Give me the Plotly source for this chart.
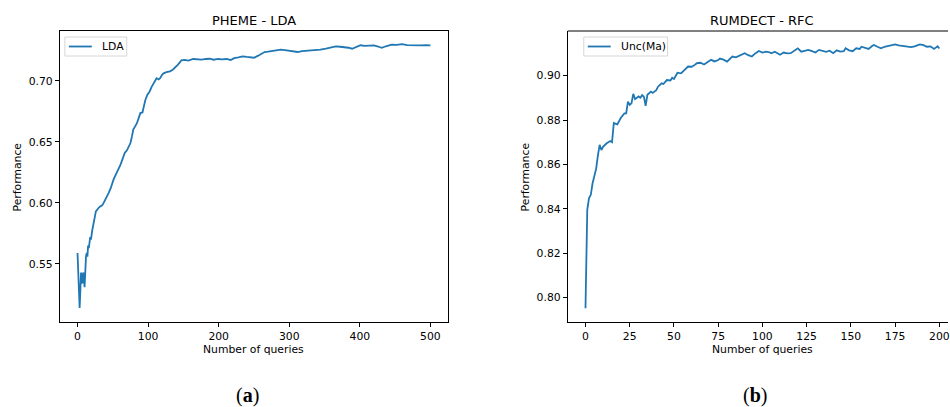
import plotly.graph_objects as go

# PHEME - LDA learning curve (number of queries vs. performance)
pheme_queries = [0, 1, 2, 3, 4, 5, 6, 7, 8, 9, 10, 11, 12, 13, 14, 15, 16, 18, 19, 21,
                 23, 25, 26, 28, 30, 32, 35, 37, 39, 42, 44, 47, 49, 51, 54, 57, 60, 62,
                 65, 67, 70, 72, 75, 77, 79, 82, 84, 87, 89, 92, 94, 96, 99, 102, 105,
                 108, 112, 115, 117, 120, 122, 126, 131, 135, 138, 142, 145, 147, 152,
                 157, 164, 170, 176, 182, 187, 193, 199, 205, 211, 217, 222, 228, 234,
                 240, 245, 250, 256, 262, 265, 270, 276, 282, 288, 294, 300, 306, 312,
                 318, 324, 330, 337, 344, 352, 358, 366, 372, 378, 384, 389, 395, 401,
                 407, 414, 420, 426, 431, 437, 445, 452, 460, 467, 474, 480, 487, 493, 500]
pheme_lda = [0.559, 0.540, 0.522, 0.514, 0.528, 0.543, 0.537, 0.534, 0.543, 0.540, 0.531,
             0.553, 0.556, 0.559, 0.556, 0.565, 0.563, 0.572, 0.570, 0.578,
             0.586, 0.590, 0.593, 0.595, 0.596, 0.597, 0.598, 0.600, 0.602, 0.605, 0.608,
             0.612, 0.616, 0.619, 0.623, 0.626, 0.630, 0.633,
             0.639, 0.641, 0.643, 0.645, 0.649, 0.654, 0.660, 0.663, 0.665, 0.670, 0.6735,
             0.674, 0.680, 0.684, 0.6885, 0.691, 0.695,
             0.698, 0.702, 0.701, 0.702, 0.705, 0.706, 0.707, 0.7077, 0.709, 0.7105,
             0.713, 0.715, 0.7167, 0.7170,
             0.7165, 0.7178, 0.7175, 0.7172, 0.7178, 0.7180, 0.7172, 0.7178, 0.7175, 0.7178,
             0.7170, 0.7185, 0.7192, 0.7200,
             0.7195, 0.7190, 0.7188, 0.7205, 0.7225, 0.7235, 0.7238, 0.7245, 0.7250, 0.7254,
             0.7250, 0.7245, 0.7240, 0.7235,
             0.7242, 0.7245, 0.7244, 0.7248, 0.7255, 0.7262, 0.7270, 0.7281, 0.7278, 0.7275,
             0.7270, 0.7262, 0.7278, 0.7290,
             0.7285, 0.7288, 0.7290, 0.7280, 0.7270, 0.7282, 0.7295, 0.7293, 0.7300, 0.7292,
             0.7290, 0.7293, 0.7290, 0.7292, 0.7290]

# RUMDECT - RFC learning curve
rumdect_queries = [0, 1, 2, 3, 4, 5, 6, 7, 8, 9, 10, 12, 14, 15, 16, 18, 20, 22, 23, 24,
                   25, 26, 27, 28, 30, 31, 32, 33, 34, 35, 36, 37, 38, 40, 41, 43, 44, 45,
                   46, 48, 49, 50, 52, 54, 55, 56, 58, 60, 61, 63, 65, 67, 69, 71, 73, 75,
                   76, 78, 80, 82, 83, 85, 86, 88, 90, 92, 94, 96, 98, 100, 102, 104, 105,
                   107, 110, 112, 114, 116, 118, 120, 122, 124, 126, 128, 130, 132, 134,
                   136, 138, 140, 142, 144, 146, 147, 149, 151, 153, 155, 156, 158, 160,
                   162, 163, 165, 167, 169, 171, 173, 175, 177, 179, 181, 182, 184, 186,
                   188, 189, 191, 193, 195, 197, 198, 199, 200]
rumdect_unc_ma = [0.7952, 0.8395, 0.8448, 0.8463, 0.8515, 0.8545, 0.8580, 0.8640, 0.8688,
                  0.8665, 0.8680, 0.8695, 0.8705, 0.8700, 0.8786, 0.8780, 0.8810, 0.8830,
                  0.8830, 0.8883,
                  0.8868, 0.8875, 0.8918, 0.8894, 0.8906, 0.8900, 0.8912, 0.8905, 0.8864,
                  0.8914, 0.8920, 0.8928, 0.8922, 0.8934, 0.8950, 0.8965, 0.8962, 0.8972,
                  0.8980, 0.8978, 0.8990, 0.8985, 0.9013, 0.9010, 0.9018, 0.9026, 0.9041,
                  0.9040, 0.9044, 0.9056, 0.9058, 0.9050, 0.9060, 0.9071, 0.9064, 0.9070,
                  0.9077, 0.9072, 0.9063, 0.9080, 0.9086, 0.9082, 0.9086, 0.9096, 0.9101,
                  0.9092, 0.9086, 0.9100, 0.9111, 0.9104, 0.9108, 0.9105, 0.9101,
                  0.9108, 0.9094, 0.9104, 0.9100, 0.9101, 0.9112, 0.9123, 0.9108, 0.9112,
                  0.9116, 0.9110, 0.9104, 0.9116, 0.9110,
                  0.9107, 0.9112, 0.9101, 0.9114, 0.9108, 0.9110, 0.9123, 0.9114, 0.9110,
                  0.9123, 0.9120, 0.9130, 0.9124, 0.9120,
                  0.9133, 0.9138, 0.9130, 0.9123, 0.9130, 0.9134, 0.9136, 0.9141, 0.9136,
                  0.9133, 0.9130, 0.9130, 0.9128, 0.9132,
                  0.9140, 0.9141, 0.9137, 0.9130, 0.9132, 0.9120, 0.9126, 0.9132, 0.9122]

W, H = 950, 407
M_T, M_B = 31, 85
PLOT_H = H - M_T - M_B
LEFT_DOM = [60 / W, 449 / W]
RIGHT_DOM = [569 / W, 1.0]
RIGHT_FULL_END = 959 / W  # the right panel's frame continues past the page edge

FONT = "DejaVu Sans"
BLUE = "#1f77b4"
SMALL = 10.8
TITLE = 13


def py(ypx):
    """Convert a pixel row into paper coordinates."""
    return (H - M_B - ypx) / PLOT_H


def px(xpx):
    return xpx / W


fig = go.Figure()
fig.add_trace(go.Scatter(x=pheme_queries, y=pheme_lda, mode="lines", name="LDA",
                         line=dict(color=BLUE, width=1.8), xaxis="x", yaxis="y"))
fig.add_trace(go.Scatter(x=rumdect_queries, y=rumdect_unc_ma, mode="lines", name="Unc(Ma)",
                         line=dict(color=BLUE, width=1.8), xaxis="x2", yaxis="y2"))

axis_common = dict(showgrid=False, zeroline=False, showline=True, linecolor="black",
                   linewidth=1, ticks="outside", ticklen=4, tickwidth=1, tickcolor="black",
                   ticklabeloverflow="allow",
                   tickfont=dict(family=FONT, size=SMALL, color="black"))

fig.update_layout(
    width=W, height=H,
    margin=dict(l=0, r=0, t=M_T, b=M_B),
    paper_bgcolor="white", plot_bgcolor="white",
    font=dict(family=FONT, size=SMALL, color="black"),
    showlegend=False,
    xaxis=dict(domain=LEFT_DOM, range=[-25, 525], tickvals=[0, 100, 200, 300, 400, 500],
               mirror=True, anchor="y", **axis_common),
    yaxis=dict(domain=[0, 1], range=[0.5025, 0.7407], tickvals=[0.55, 0.60, 0.65, 0.70],
               tickformat=".2f", mirror=True, anchor="x", **axis_common),
    xaxis2=dict(domain=RIGHT_DOM, range=[-10, 204.9],
                tickvals=[0, 25, 50, 75, 100, 125, 150, 175, 200], anchor="y2",
                **axis_common),
    yaxis2=dict(domain=[0, 1], range=[0.789, 0.9201],
                tickvals=[0.80, 0.82, 0.84, 0.86, 0.88, 0.90], tickformat=".2f",
                anchor="x2", **axis_common),
)

shapes = [
    # top border of the right panel
    dict(type="line", xref="paper", yref="paper", x0=RIGHT_DOM[0], x1=1.0, y0=1, y1=1,
         line=dict(color="black", width=1)),
]
annotations = []

# legend boxes: (left edge, right edge, label)
for x0, x1, label in ((65, 127, "LDA"), (585, 669, "Unc(Ma)")):
    shapes.append(dict(type="rect", xref="paper", yref="paper",
                       x0=px(x0), x1=px(x1), y0=py(56), y1=py(37),
                       line=dict(color="#d6d6d6", width=1), fillcolor="white"))
    shapes.append(dict(type="line", xref="paper", yref="paper",
                       x0=px(x0 + 4), x1=px(x0 + 27), y0=py(46.5), y1=py(46.5),
                       line=dict(color=BLUE, width=1.8)))
    annotations.append(dict(text=label, x=px(x0 + 35), y=py(46.5), xref="paper",
                            yref="paper", showarrow=False, xanchor="left", yanchor="middle",
                            font=dict(family=FONT, size=SMALL, color="black")))

for center, title in (((LEFT_DOM[0] + LEFT_DOM[1]) / 2, "PHEME - LDA"),
                      ((RIGHT_DOM[0] + RIGHT_FULL_END) / 2, "RUMDECT - RFC")):
    annotations.append(dict(text=title, x=center, y=py(21), xref="paper", yref="paper",
                            showarrow=False, xanchor="center", yanchor="middle",
                            font=dict(family=FONT, size=TITLE, color="black")))
    annotations.append(dict(text="Number of queries", x=center, y=py(349), xref="paper",
                            yref="paper", showarrow=False, xanchor="center",
                            yanchor="middle",
                            font=dict(family=FONT, size=SMALL, color="black")))
for xpx in (18, 527):
    annotations.append(dict(text="Performance", x=px(xpx), y=0.5, xref="paper",
                            yref="paper", showarrow=False, textangle=-90,
                            xanchor="center", yanchor="middle",
                            font=dict(family=FONT, size=SMALL, color="black")))
for xpx, cap in ((248, "(<b>a</b>)"), (757, "(<b>b</b>)")):
    annotations.append(dict(text=cap, x=px(xpx), y=py(395), xref="paper", yref="paper",
                            showarrow=False, xanchor="center", yanchor="middle",
                            font=dict(family="Liberation Serif", size=20, color="black")))

fig.update_layout(shapes=shapes, annotations=annotations)

fig.write_html("out.html")
